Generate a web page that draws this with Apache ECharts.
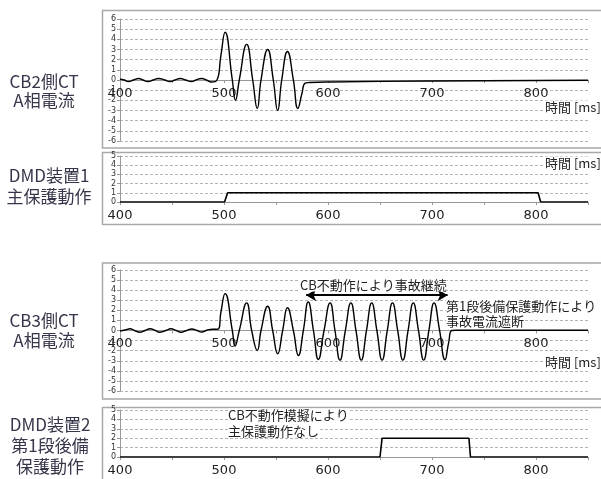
<!DOCTYPE html>
<html>
<head>
<meta charset="utf-8">
<script src="https://cdn.jsdelivr.net/npm/echarts@6/dist/echarts.min.js"></script>
<style>
  html, body { margin: 0; padding: 0; background: #fff; }
  #main { width: 601px; height: 479px; }
</style>
</head>
<body>
<div id="main"></div>
<script>
  // CB2側CT A相電流 (時刻 ms / 値)
  const ct1Time = [400, 404, 408, 413, 418, 422, 427, 432, 437, 443, 448, 453, 458, 463, 469, 473, 478.5, 483, 488, 493,
    497, 501, 508, 511, 514.7, 521.8, 527.6, 532, 535.6, 542, 547.4, 551.6, 555.5, 561, 566.7, 571, 575, 578, 582, 600, 700, 850];
  const ct1Value = [0.08, 0, -0.15, 0, 0.15, 0, -0.15, 0, 0.15, 0, -0.15, 0, 0.15, 0, -0.15, 0, 0.15, 0, -0.2, -0.05,
    2.4, 4.7, 0, -2.0, 0, 3.5, 0, -2.8, 0, 3.0, 0, -3.0, 0, 2.8, 0, -2.8, -1.3, -0.3, -0.25, -0.2, -0.1, -0.02];

  // DMD装置1 主保護動作
  const dmd1Time = [400, 500.5, 503.5, 802, 804.5, 850];
  const dmd1Value = [0, 0, 1, 1, 0, 0];

  // CB3側CT A相電流
  const ct3Time = [400, 405, 409.6, 414, 419, 424, 429, 434, 438, 444, 449, 454, 458.6, 464, 469, 474, 478.5, 484, 489, 494,
    497, 501, 508, 510.6, 514.7, 521.8, 526.6, 532, 535.6, 542, 546.8, 551.6, 556.4, 561, 566.7, 571.5, 576.3,
    581, 586, 590.7, 596.2, 602, 606.7, 611.5, 616.7, 622, 626.9, 632, 637, 642, 647, 652, 657, 662, 667, 672,
    677, 682, 687, 692, 697, 702, 707.3, 712.5, 716, 719, 723, 850];
  const ct3Value = [-0.05, 0.05, 0.17, 0, -0.17, 0, 0.17, 0, -0.17, 0, 0.17, 0, -0.17, 0, 0.15, 0, -0.15, 0.05, 0.12, 0.12,
    1.8, 3.66, 0, -1.55, 0, 2.74, 0, -1.98, 0, 2.4, 0, -2.3, 0, 2.25, 0, -2.48, 0,
    2.84, 0, -2.87, 0, 2.74, 0, -2.94, 0, 2.74, 0, -2.94, 0, 2.74, 0, -2.94, 0, 2.74, 0, -2.94,
    0, 2.74, 0, -2.94, 0, 2.74, 0, -2.9, -1.2, 0, 0.03, 0.03];

  // DMD装置2 第1段後備保護動作
  const dmd2Time = [400, 650, 652, 735.5, 737, 850];
  const dmd2Value = [0, 0, 2, 2, 0, 0];

  // 矢印 (CB不動作により事故継続)
  const arrowFrom = 579;
  const arrowTo = 715;
  const arrowLevel = 3.5;

  const panelLabels = ['CB2側CT\nA相電流', 'DMD装置1\n主保護動作', 'CB3側CT\nA相電流', 'DMD装置2\n第1段後備\n保護動作'];
  const timeLabel = '時間 [ms]';

  function zip(t, v) {
    return t.map(function (x, i) { return [x, v[i]]; });
  }

  const myEcharts = echarts.init(document.getElementById('main'));

  const grids = [
    { left: 120, right: 13, top: 19, height: 122 },
    { left: 120, right: 13, top: 156, height: 46 },
    { left: 120, right: 13, top: 270, height: 121 },
    { left: 120, right: 13, top: 410, height: 47 }
  ];

  // offset: 0の位置まで軸を持ち上げる
  function makeX(i, offset) {
    return {
      type: 'value', gridIndex: i, min: 400, max: 850, interval: 50,
      offset: offset,
      axisLine: { onZero: false, lineStyle: { color: '#999', width: 1 } },
      axisTick: { show: true, length: 3, lineStyle: { color: '#999' } },
      splitLine: { show: false },
      axisLabel: {
        color: '#222', fontSize: 13, margin: 7, fontFamily: 'DejaVu Sans',
        formatter: function (v) { return v % 100 === 0 && v < 850 ? String(v) : ''; }
      }
    };
  }

  function makeY(i, min, max) {
    return {
      type: 'value', gridIndex: i, min: min, max: max, interval: 1,
      axisLine: { show: true, onZero: false, lineStyle: { color: '#999', width: 1 } },
      axisTick: { show: true, length: 3, lineStyle: { color: '#999' } },
      splitLine: { show: true, lineStyle: { color: '#b4b4b4', type: [3, 2], width: 1 } },
      axisLabel: { color: '#333', fontSize: 8, margin: 4, fontFamily: 'DejaVu Sans' }
    };
  }

  const labelFont = '17px "Noto Sans CJK JP"';
  const noteFont = '13px "Noto Sans CJK JP"';

  function sideText(x, y, text, lh) {
    return {
      type: 'text', x: x, y: y, z: 10,
      style: { text: text, font: labelFont, fill: '#36364a', align: 'center', verticalAlign: 'middle', lineHeight: lh }
    };
  }

  function note(x, y, text) {
    return {
      type: 'text', x: x, y: y, z: 10,
      style: { text: text, font: noteFont, fill: '#222', align: 'left', verticalAlign: 'middle', backgroundColor: '#fff' }
    };
  }

  function box(y1, y2) {
    return {
      type: 'rect', z: -1, silent: true,
      shape: { x: 102.5, y: y1, width: 520, height: y2 - y1 },
      style: { fill: 'none', stroke: '#a8a8a8', lineWidth: 1.5 }
    };
  }

  const options = {
    animation: false,
    grid: grids,
    xAxis: [makeX(0, -61), makeX(1, 0), makeX(2, -60.5), makeX(3, 0)],
    yAxis: [makeY(0, -6, 6), makeY(1, 0, 5), makeY(2, -6, 6), makeY(3, 0, 5)],
    series: [
      {
        type: 'line', xAxisIndex: 0, yAxisIndex: 0, data: zip(ct1Time, ct1Value),
        smooth: 0.5, showSymbol: false, lineStyle: { color: '#000', width: 1.4 }
      },
      {
        type: 'line', xAxisIndex: 1, yAxisIndex: 1, data: zip(dmd1Time, dmd1Value),
        showSymbol: false, lineStyle: { color: '#000', width: 1.6 }
      },
      {
        type: 'line', xAxisIndex: 2, yAxisIndex: 2, data: zip(ct3Time, ct3Value),
        smooth: 0.5, showSymbol: false, lineStyle: { color: '#000', width: 1.4 },
        markLine: {
          silent: true, symbol: ['arrow', 'arrow'], symbolSize: [9, 10],
          label: { show: false },
          lineStyle: { color: '#000', type: 'solid', width: 2 },
          data: [[{ coord: [arrowFrom, arrowLevel] }, { coord: [arrowTo, arrowLevel] }]]
        }
      },
      {
        type: 'line', xAxisIndex: 3, yAxisIndex: 3, data: zip(dmd2Time, dmd2Value),
        showSymbol: false, lineStyle: { color: '#000', width: 1.6 }
      }
    ],
    graphic: [
      box(10.5, 148), box(152.5, 224.5), box(263, 399), box(407.5, 490),
      sideText(44, 91, panelLabels[0], 19),
      sideText(49, 186.5, panelLabels[1], 21),
      sideText(44, 331, panelLabels[2], 20),
      sideText(50, 446, panelLabels[3], 21),
      note(545, 107, timeLabel),
      note(545, 163, timeLabel),
      note(545, 362, timeLabel),
      note(300, 285, 'CB不動作により事故継続'),
      note(446, 306, '第1段後備保護動作により'),
      note(446, 321, '事故電流遮断'),
      note(228, 415, 'CB不動作模擬により'),
      note(228, 431, '主保護動作なし')
    ]
  };

  myEcharts.setOption(options, true);
</script>
</body>
</html>
